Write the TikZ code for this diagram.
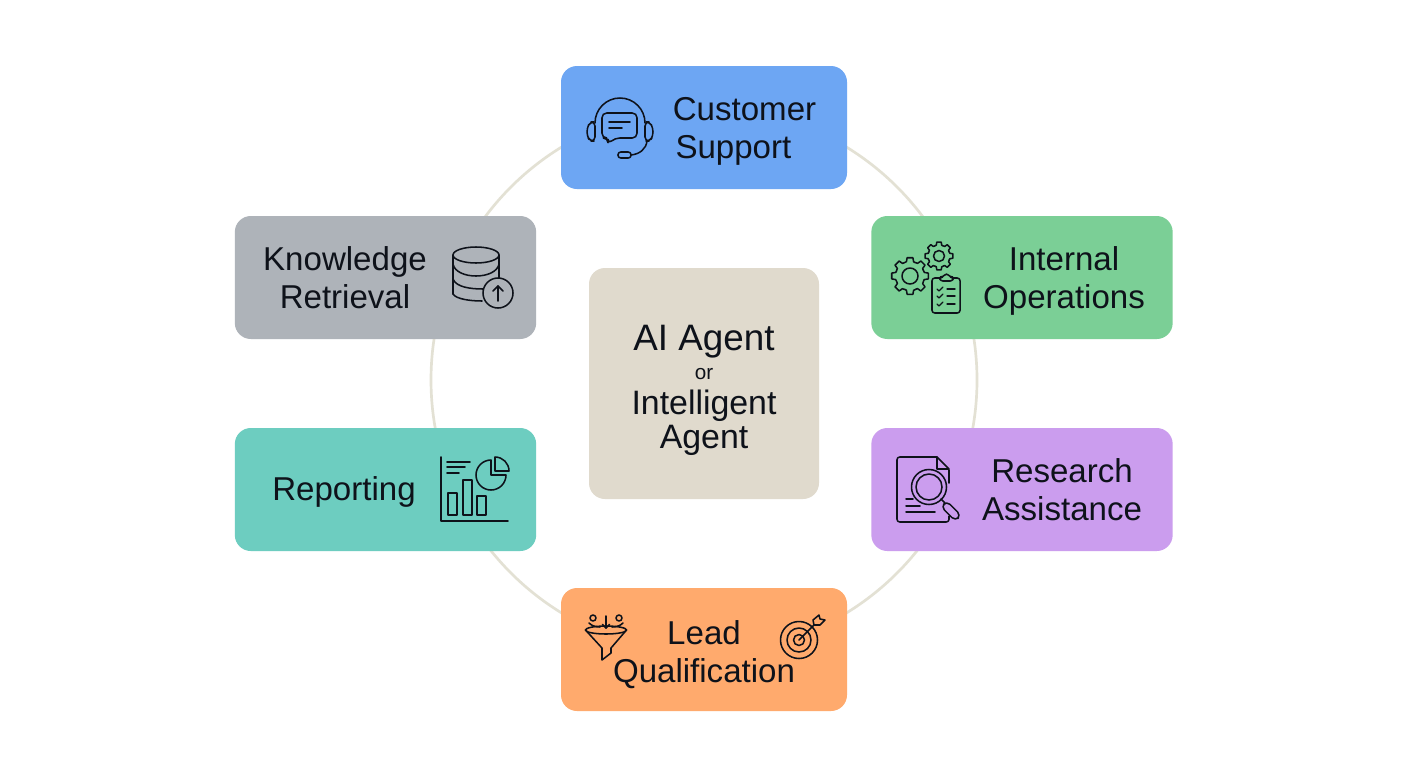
\documentclass[tikz,border=0pt]{standalone}
\usepackage{fontspec}
\setmainfont{Liberation Sans}
\definecolor{ink}{HTML}{0E121A}
\definecolor{ringc}{HTML}{E3E1D4}
\definecolor{cblue}{HTML}{6DA6F3}
\definecolor{cgreen}{HTML}{7BCF96}
\definecolor{cpurple}{HTML}{CB9DEE}
\definecolor{corange}{HTML}{FFAA6D}
\definecolor{cteal}{HTML}{6DCDC0}
\definecolor{cgray}{HTML}{AEB3B9}
\definecolor{ccentre}{HTML}{E0DACD}
\newcommand{\gearshape}[3]{%
  \begin{scope}[shift={#1}]
    \foreach \a in {0,45,...,315}{
      \draw[icon] ({\a-27}:{#2*0.78}) -- ({\a-14}:{#2*0.8}) -- ({\a-9}:{#2}) -- ({\a+9}:{#2}) -- ({\a+14}:{#2*0.8}) -- ({\a+18}:{#2*0.78});
    }
    \draw[icon] (0,0) circle[radius=#3];
  \end{scope}}
\tikzset{
  tile/.style={rectangle,rounded corners=12pt,draw=none,inner sep=0pt},
  wide/.style={minimum width=226pt,minimum height=92.25pt},
  narrow/.style={minimum width=214.5pt,minimum height=92.25pt},
  label/.style={font=\fontsize{24.8pt}{28.5pt}\selectfont,text=ink,align=center,inner sep=0pt},
  icon/.style={draw=ink,line width=1.15pt,line cap=round,line join=round,fill=none}
}
\begin{document}
\begin{tikzpicture}[x=0.75pt,y=-0.75pt]
\useasboundingbox (0,0) rectangle (1408,768);
\fill[white] (0,0) rectangle (1408,768);
\draw[ringc,line width=2pt] (704,380) circle[radius=273];

\node[tile,fill=ccentre,minimum width=172.5pt,minimum height=173.25pt] (centre) at (704,383.5) {};
\node[tile,fill=cblue,narrow] (support) at (704,127.5) {};
\node[tile,fill=cgreen,wide] (ops) at (1022,277.5) {};
\node[tile,fill=cpurple,wide] (research) at (1022,489.5) {};
\node[tile,fill=corange,narrow] (lead) at (704,649.5) {};
\node[tile,fill=cteal,wide] (reporting) at (385.5,489.5) {};
\node[tile,fill=cgray,wide] (knowledge) at (385.5,277.5) {};

\node[label,font=\fontsize{27.6pt}{28pt}\selectfont,anchor=base] (t1) at (704,350) {AI Agent};
\node[label,font=\fontsize{15.5pt}{16pt}\selectfont,anchor=base] (t2) at (704,379) {or};
\node[label,font=\fontsize{25.4pt}{28pt}\selectfont,anchor=base] (t3) at (704,414) {Intelligent};
\node[label,font=\fontsize{25.4pt}{28pt}\selectfont,anchor=base] (t4) at (704,448) {Agent};

\node[label,align=left] (tsupport) at (744.5,131) {Customer\\\hspace*{2pt}Support};
\node[label] (tops) at (1064,280.5) {Internal\\Operations};
\node[label] (tresearch) at (1062,490) {Research\\Assistance};
\node[label] (tlead) at (704,655) {Lead\\Qualification};
\node[label] (treporting) at (344,492) {Reporting};
\node[label] (tknowledge) at (345,278) {Knowledge\\Retrieval};

% headset
\draw[icon] (595,123) arc[start angle=180,end angle=360,radius=25];
\draw[icon,rounded corners=3pt] (595,122) -- (590,122) -- (587,128) -- (587,136) -- (590,141) -- (595,141) -- cycle;
\draw[icon,rounded corners=3pt] (645,122) -- (650,122) -- (653,128) -- (653,136) -- (650,141) -- (645,141) -- cycle;
\draw[icon,rounded corners=3.5pt] (602,113) -- (637,113) -- (637,138) -- (615,138) -- (608,144) -- (608,138) -- (602,138) -- cycle;
\draw[icon] (609,122) -- (630,122);
\draw[icon] (609,128) -- (622,128);
\draw[icon] (647,141) .. controls (646,149) and (640,154) .. (631,155);
\draw[icon,rounded corners=2pt] (618,152) rectangle (631,158);

% gears and clipboard
\gearshape{(910,276)}{18.5}{8}
\gearshape{(939,256)}{14}{5.5}
\draw[icon,fill=cgreen,rounded corners=2pt] (932,278) rectangle (960,313);
\draw[icon,fill=cgreen,rounded corners=2pt] (940,281) -- (940,277) -- (943,277) -- (946.5,273) -- (950,277) -- (953,277) -- (953,281) -- cycle;
\foreach \yy in {289,296,304}{
  \draw[icon,line width=1pt] (937,\yy) -- (939,\yy+2) -- (943,\yy-2);
  \draw[icon,line width=1pt] (947,\yy) -- (955,\yy);
}

% document and magnifier
\draw[icon] (949,470) -- (949,483);
\draw[icon,rounded corners=2pt] (937,457) -- (897,457) -- (897,522) -- (949,522) -- (949,516);
\draw[icon] (937,457) -- (949,469) -- (937,469) -- cycle;
\draw[icon] (906,499) -- (913,499);
\draw[icon] (906,506) -- (920,506);
\draw[icon] (906,512) -- (935,512);
\draw[icon] (929,487) circle[radius=17.5];
\draw[icon] (929,487) circle[radius=13];
\draw[icon] (941,499) -- (945,503);
\draw[icon,rotate around={-45:(951,511)},rounded corners=3.5pt] (941,507) rectangle (961,515);

% funnel and target
\draw[icon] (606,630) ellipse[x radius=20.5,y radius=4];
\draw[icon] (585.5,630) -- (602,648) -- (602,660) -- (611,653) -- (611,648) -- (626.5,630);
\draw[icon] (593,618) circle[radius=3];
\draw[icon] (619,618) circle[radius=3];
\draw[icon] (606,616) -- (606,628);
\draw[icon] (602.5,624.5) -- (606,628) -- (609.5,624.5);
\draw[icon] (589,623) .. controls (592,626) and (596,627) .. (600,627);
\draw[icon] (623,623) .. controls (620,626) and (616,627) .. (612,627);
\draw[icon] (799,640) circle[radius=18.5];
\draw[icon] (799,640) circle[radius=12];
\draw[icon] (799,640) circle[radius=5.5];
\draw[icon] (799,640) -- (814,625);
\draw[icon] (814,625) -- (813,620) -- (819,615) -- (820,619) -- (825,620) -- (820,625) -- cycle;

% chart
\draw[icon] (441,457) -- (441,521) -- (508,521);
\draw[icon] (447,462) -- (470,462);
\draw[icon] (447,467) -- (465,467);
\draw[icon] (447,473) -- (459,473);
\draw[icon] (448,493) rectangle (457,515);
\draw[icon] (463,480) rectangle (472,515);
\draw[icon] (477,496) rectangle (486,515);
\draw[icon] (491,460) arc[start angle=270,end angle=0,radius=15] -- (491,475) -- cycle;
\draw[icon] (495,457) arc[start angle=270,end angle=360,radius=14] -- (495,471) -- cycle;

% database
\draw[icon] (476,255) ellipse[x radius=23,y radius=8];
\draw[icon] (453,255) -- (453,294);
\draw[icon] (499,255) -- (499,278);
\draw[icon] (453,264) .. controls (456,280) and (496,280) .. (499,264);
\draw[icon] (453,279) .. controls (456,287) and (470,289) .. (483,289);
\draw[icon] (453,294) .. controls (456,299) and (470,301) .. (482,301);
\draw[icon] (498,293) circle[radius=15];
\draw[icon] (498,301) -- (498,286);
\draw[icon] (493,291) -- (498,286) -- (503,291);
\end{tikzpicture}
\end{document}
